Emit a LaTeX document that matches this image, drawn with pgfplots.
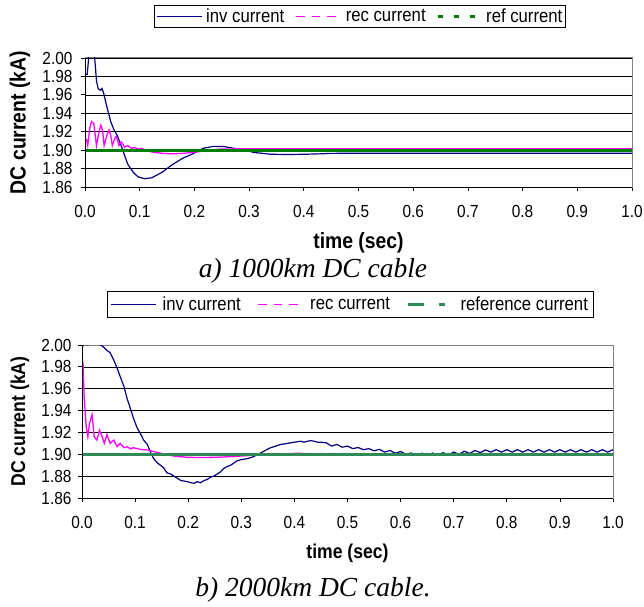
\documentclass[border=0pt]{standalone}
\usepackage{pgfplots}
\pgfplotsset{compat=1.18}
\usepackage{fontspec}
\setmainfont{Liberation Sans}[FakeStretch=0.88]
\newfontfamily\capfont{Liberation Serif}
\definecolor{invc}{RGB}{0,0,128}
\definecolor{recc}{RGB}{255,0,255}
\definecolor{refa}{RGB}{0,128,0}
\definecolor{refb}{RGB}{46,139,87}
\pgfplotsset{
  mystyle/.style={
    scale only axis,
    xmin=0, xmax=1, ymin=1.86, ymax=2.00,
    xtick={0,0.1,0.2,0.3,0.4,0.5,0.6,0.7,0.8,0.9,1.0},
    ytick={1.86,1.88,1.90,1.92,1.94,1.96,1.98,2.00},
    ymajorgrids,
    grid style={black, line width=0.7pt},
    tick align=outside,
    xtick pos=left, ytick pos=left,
    major tick length=4pt,
    tick style={black, line width=0.8pt},
    axis line style={draw=gray, line width=1pt},
    /pgf/number format/assume math mode=true,
    xticklabel style={/pgf/number format/fixed, /pgf/number format/fixed zerofill, /pgf/number format/precision=1, yshift=-11pt},
    yticklabel style={/pgf/number format/fixed, /pgf/number format/fixed zerofill, /pgf/number format/precision=2},
    tick label style={font=\fontsize{17.5}{20}\selectfont},
    ylabel={DC current (kA)}, xlabel={time (sec)},
    legend columns=3,
    legend style={draw=black, line width=0.8pt, fill=white, anchor=center,
      font=\fontsize{19}{21}\selectfont, inner sep=1.5pt},
    clip=true,
  },
  invleg/.style={legend image code/.code={\draw[invc, line width=1.3pt] (0pt,0pt) -- (45pt,0pt);}},
  recleg/.style={legend image code/.code={\draw[recc, line width=1.5pt, dash pattern=on 8.5pt off 7pt] (0pt,0pt) -- (45pt,0pt);}},
}
\begin{document}
\begin{tikzpicture}
\useasboundingbox (0,0) rectangle (644pt,606pt);
% ---------------- top axis ----------------
\begin{axis}[mystyle, width=547pt, height=129pt, at={(85pt,419pt)}, anchor=south west,
  yticklabel style={xshift=-5pt},
  xlabel style={at={(axis description cs:0.5,-0.435)}, anchor=center, font=\bfseries\fontsize{22}{25}\selectfont},
  ylabel style={at={(axis description cs:-0.119,0.5)}, anchor=center, font=\bfseries\fontsize{22}{25}\selectfont},
  legend style={at={(axis description cs:0.503,1.322)},
      /tikz/every odd column/.append style={column sep=2pt},
      /tikz/every even column/.append style={column sep=9pt}}]
\addplot[invc, line width=1.2pt, invleg] coordinates {
(0,1.982) (0.004,1.982) (0.006,1.995) (0.009,2.02) (0.012,2.03) (0.015,2.015)
(0.018,1.998) (0.021,1.975) (0.024,1.967) (0.028,1.965) (0.031,1.967) (0.034,1.962)
(0.040,1.947) (0.047,1.931) (0.053,1.922) (0.059,1.916) (0.066,1.905) (0.072,1.895)
(0.078,1.885) (0.088,1.876) (0.097,1.871) (0.109,1.869) (0.122,1.870) (0.141,1.876)
(0.159,1.884) (0.178,1.891) (0.197,1.896) (0.216,1.902) (0.234,1.904) (0.253,1.904)
(0.272,1.902) (0.291,1.900) (0.309,1.8975) (0.34,1.8955) (0.372,1.8953) (0.40,1.8955)
(0.43,1.896) (0.45,1.8965) (0.50,1.8966) (0.60,1.8966) (0.80,1.8966) (1.0,1.8966)};
\addlegendentry{inv current}
\addplot[recc, line width=1.3pt, recleg] coordinates {
(0,1.913) (0.003,1.911) (0.005,1.905) (0.009,1.925) (0.012,1.931) (0.016,1.929)
(0.019,1.915) (0.021,1.905) (0.025,1.918) (0.029,1.927) (0.032,1.922) (0.035,1.905)
(0.040,1.916) (0.044,1.922) (0.047,1.916) (0.050,1.905) (0.054,1.912) (0.057,1.915)
(0.060,1.910) (0.062,1.905) (0.066,1.909) (0.070,1.906) (0.072,1.903) (0.078,1.905)
(0.085,1.902) (0.091,1.903) (0.097,1.901) (0.104,1.902) (0.110,1.900) (0.122,1.898)
(0.141,1.8965) (0.159,1.896) (0.178,1.8965) (0.197,1.8975) (0.216,1.899) (0.247,1.9012)
(0.30,1.9015) (0.5,1.9015) (0.8,1.9015) (1.0,1.9015)};
\addlegendentry{rec current}
\addplot[refa, line width=2.8pt,
  legend image code/.code={\draw[refa, line width=2.5pt, dash pattern=on 5pt off 11pt] (2pt,0pt) -- (45pt,0pt);}]
  coordinates {(0,1.90) (1.0,1.90)};
\addlegendentry{ref current}
\draw[black, line width=1pt] (rel axis cs:0,1) -- (rel axis cs:0,0) -- (rel axis cs:1,0);
\end{axis}
% ---------------- bottom axis ----------------
\begin{axis}[mystyle, width=531pt, height=153pt, at={(82pt,108pt)}, anchor=south west,
  yticklabel style={xshift=-3pt},
  xlabel style={at={(axis description cs:0.5,-0.36)}, anchor=center, font=\bfseries\fontsize{20}{23}\selectfont},
  ylabel style={at={(axis description cs:-0.117,0.5)}, anchor=center, font=\bfseries\fontsize{20}{23}\selectfont},
  legend style={at={(axis description cs:0.505,1.265)}, inner sep=3pt,
      /tikz/every odd column/.append style={column sep=4pt},
      /tikz/every even column/.append style={column sep=15pt}}]
\addplot[invc, line width=1.2pt, invleg] coordinates {
(0,1.998) (0.006,2.002) (0.011,2.000) (0.016,2.002) (0.022,2.001) (0.028,2.0025)
(0.035,2.000) (0.041,1.998) (0.047,1.995) (0.053,1.993) (0.060,1.986) (0.066,1.979)
(0.072,1.971) (0.079,1.962) (0.085,1.951) (0.091,1.942) (0.097,1.933) (0.104,1.924)
(0.110,1.919) (0.116,1.913) (0.123,1.909) (0.129,1.902) (0.135,1.896) (0.142,1.892)
(0.148,1.890) (0.154,1.8875) (0.160,1.883) (0.167,1.882) (0.173,1.880) (0.180,1.878)
(0.186,1.876) (0.192,1.8755) (0.198,1.875) (0.205,1.874) (0.211,1.8735) (0.217,1.875)
(0.223,1.874) (0.230,1.876) (0.236,1.877) (0.242,1.879) (0.248,1.880) (0.255,1.882)
(0.261,1.884) (0.267,1.887) (0.274,1.889) (0.280,1.890) (0.286,1.892) (0.292,1.894)
(0.299,1.895) (0.305,1.8955) (0.311,1.896) (0.318,1.897) (0.324,1.898) (0.330,1.900)
(0.336,1.901) (0.343,1.903) (0.349,1.9045) (0.355,1.906) (0.362,1.907) (0.368,1.908)
(0.374,1.909) (0.381,1.9095) (0.387,1.910) (0.393,1.9105) (0.399,1.911) (0.406,1.9115)
(0.412,1.912) (0.418,1.911) (0.425,1.912) (0.431,1.9125) (0.437,1.912) (0.444,1.911)
(0.450,1.911) (0.46,1.9105) (0.47,1.9075) (0.48,1.9090) (0.49,1.9065) (0.50,1.9075)
(0.51,1.9052) (0.52,1.9062) (0.53,1.9042) (0.54,1.9052) (0.55,1.9032) (0.56,1.9045)
(0.57,1.9020) (0.58,1.9035) (0.59,1.9010) (0.60,1.9025) (0.61,1.9000) (0.62,1.9012)
(0.63,1.8992) (0.64,1.9010) (0.65,1.8990) (0.66,1.9012) (0.67,1.8992) (0.68,1.9015)
(0.69,1.8995) (0.70,1.9020) (0.71,1.9000) (0.72,1.9028) (0.73,1.9008) (0.74,1.9035)
(0.75,1.9015) (0.76,1.9040) (0.77,1.9020) (0.78,1.9042) (0.79,1.9020) (0.80,1.9042)
(0.81,1.9020) (0.82,1.9042) (0.83,1.9020) (0.84,1.9042) (0.85,1.9020) (0.86,1.9042)
(0.87,1.9020) (0.88,1.9042) (0.89,1.9020) (0.90,1.9042) (0.91,1.9020) (0.92,1.9042)
(0.93,1.9020) (0.94,1.9042) (0.95,1.9020) (0.96,1.9042) (0.97,1.9020) (0.98,1.9042)
(0.99,1.9020) (1.00,1.9042)};
\addlegendentry{inv current}
\addplot[recc, line width=1.3pt, recleg] coordinates {
(0,1.986) (0.002,1.983) (0.004,1.953) (0.008,1.925) (0.011,1.916) (0.014,1.928)
(0.019,1.936) (0.023,1.916) (0.028,1.913) (0.033,1.922) (0.038,1.916) (0.042,1.910)
(0.047,1.918) (0.053,1.910) (0.060,1.913) (0.066,1.907) (0.072,1.910) (0.079,1.906)
(0.085,1.907) (0.091,1.905) (0.097,1.906) (0.110,1.9045) (0.123,1.904) (0.135,1.9025)
(0.148,1.901) (0.160,1.8995) (0.179,1.898) (0.198,1.8973) (0.223,1.897) (0.255,1.8973)
(0.286,1.898) (0.318,1.899) (0.349,1.900) (0.38,1.9005) (0.41,1.901)
(0.43,1.8998) (0.45,1.9008) (0.47,1.8998) (0.49,1.9008) (0.51,1.8997) (0.53,1.9008)
(0.55,1.8996) (0.57,1.9007) (0.59,1.8996) (0.61,1.9007) (0.63,1.8995) (0.65,1.9007)
(0.67,1.8995) (0.69,1.9007) (0.71,1.8996) (0.73,1.9008) (0.75,1.8997) (0.77,1.9008)
(0.79,1.8997) (0.81,1.9008) (0.83,1.8997) (0.85,1.9008) (0.87,1.8997) (0.89,1.9008)
(0.91,1.8997) (0.93,1.9008) (0.95,1.8997) (0.97,1.9008) (0.99,1.8997) (1.0,1.9005)};
\addlegendentry{rec current}
\addplot[refb, line width=2.8pt,
  legend image code/.code={\draw[refb, line width=2.5pt, dash pattern=on 16pt off 15pt on 6pt off 20pt] (0pt,0pt) -- (45pt,0pt);}]
  coordinates {(0,1.90) (1.0,1.90)};
\addlegendentry{reference current}
\draw[black, line width=1pt] (rel axis cs:0,1) -- (rel axis cs:0,0) -- (rel axis cs:1,0);
\end{axis}
% captions
\node[font=\capfont\itshape\fontsize{27.5}{31}\selectfont] at (313pt,335pt) {a) 1000km DC cable};
\node[font=\capfont\itshape\fontsize{27.5}{31}\selectfont] at (313pt,16pt) {b) 2000km DC cable.};
\end{tikzpicture}
\end{document}
